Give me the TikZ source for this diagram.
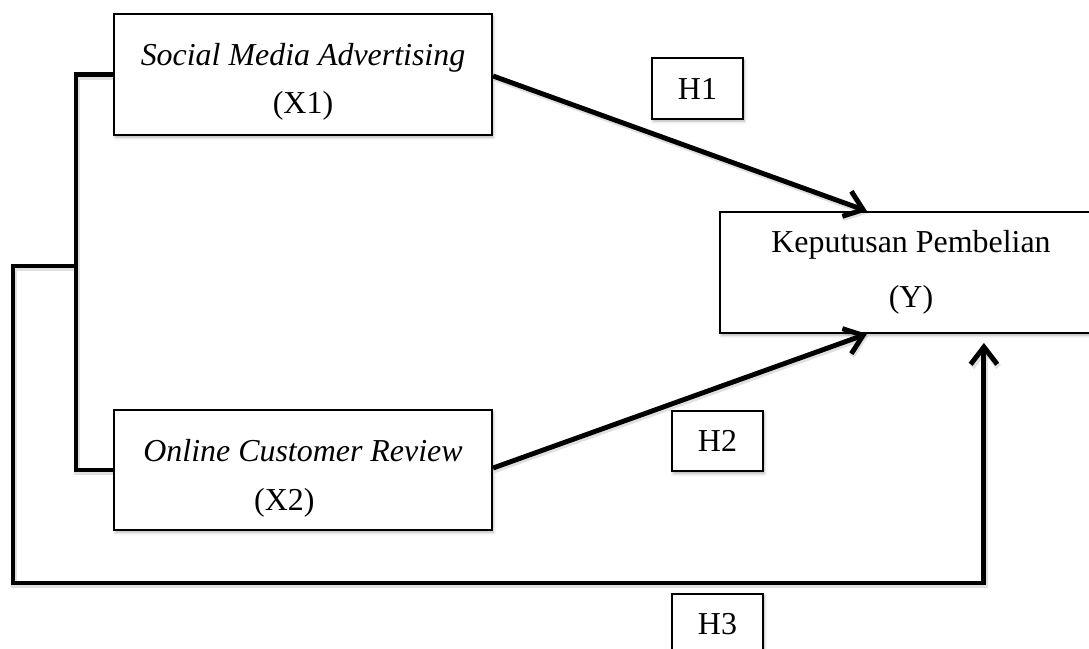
\documentclass[tikz,border=0pt]{standalone}
\usepackage{fontspec}
\setmainfont{Liberation Serif}
\usetikzlibrary{arrows.meta,calc,shadows.blur}

\tikzset{
  box/.style={draw, line width=0.8pt, fill=white, inner sep=0pt,
    align=center, font=\fontsize{12pt}{18pt}\selectfont,
    blur shadow={shadow xshift=0.5pt, shadow yshift=-0.9pt,
      shadow blur radius=1.1pt, shadow opacity=30}},
  varbox/.style={box, minimum width=142.1pt, minimum height=45.4pt},
  hypbox/.style={box, minimum width=34.2pt, minimum height=22.8pt},
  conn/.style={line width=1.85pt,
    preaction={draw=black, opacity=0.12, line width=2.2pt,
      transform canvas={shift={(0.5pt,-0.8pt)}}}},
  arr/.style={conn, -{Straight Barb[length=6.5pt,width=10pt]}}
}

\begin{document}
\begin{tikzpicture}[x=0.3759pt, y=-0.3759pt]
  \useasboundingbox (0,0) rectangle (1089,649);
  \clip (0,0) rectangle (1089,649);

  % variables
  \node[varbox] (x1) at (303,74.5)
    {\rule{0pt}{13.5pt}\textit{Social Media Advertising}\\(X1)};
  \node[varbox, minimum height=45.1pt, font=\fontsize{12pt}{18.4pt}\selectfont]
    (x2) at (303,470)
    {\rule{0pt}{14.5pt}\textit{Online Customer Review}\\(X2)\hspace*{14pt}};
  \node[varbox, minimum width=143.6pt, font=\fontsize{12pt}{20.7pt}\selectfont]
    (y) at (911,272.5) {Keputusan Pembelian\\(Y)};

  % hypothesis labels
  \node[hypbox] (h1) at (697.5,88.5) {H1};
  \node[hypbox] (h2) at (717.5,441) {H2};
  \node[hypbox] (h3) at (717.5,624) {H3};

  % joining points
  \coordinate (brk) at (76,266);
  \coordinate (corner) at (13,583);
  \coordinate (h1end) at ($(y.north west)+(148,0)$);
  \coordinate (h2end) at ($(y.south west)+(148,0)$);
  \coordinate (h3end) at ($(y.south west)+(265,9)$);
  \coordinate (h1start) at ($(x1.east)+(0,1.5)$);
  \coordinate (h2start) at ($(x2.east)+(0,-2)$);

  % bracket joining X1 and X2
  \draw[conn] (x1.west) -| (brk) |- (x2.west);
  % simultaneous path to Y
  \draw[arr] (brk) -| (corner) -| (h3end);

  % partial paths
  \draw[arr] (h1start) -- (h1end);
  \draw[arr] (h2start) -- (h2end);
\end{tikzpicture}
\end{document}
